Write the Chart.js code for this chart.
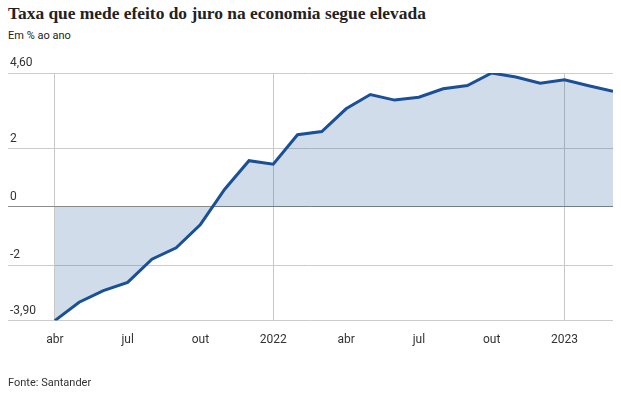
<!DOCTYPE html>
<html>
<head>
<meta charset="utf-8">
<script src="https://cdn.jsdelivr.net/npm/chart.js@4"></script>
<style>
  body{margin:0;background:#fff;}
  #wrap{position:relative;width:621px;height:398px;overflow:hidden;}
  #title{position:absolute;left:8px;top:3px;font:bold 17.4px "Liberation Serif",serif;color:#222;white-space:nowrap;}
  #sub{position:absolute;left:8px;top:29px;font:11px "Liberation Sans Narrow","Roboto",sans-serif;color:#222;}
  #src{position:absolute;left:8px;top:376px;font:11px "Liberation Sans Narrow","Roboto",sans-serif;color:#333;}
  canvas{position:absolute;left:0;top:0;}
</style>
</head>
<body>
<div id="wrap">
  <div id="title">Taxa que mede efeito do juro na economia segue elevada</div>
  <div id="sub">Em % ao ano</div>
  <canvas id="chart" width="621" height="398"></canvas>
  <div id="src">Fonte: Santander</div>
</div>
<script>
// abr/2021 .. mar/2023, monthly
const months = ["abr/21","mai/21","jun/21","jul/21","ago/21","set/21","out/21","nov/21","dez/21",
  "jan/22","fev/22","mar/22","abr/22","mai/22","jun/22","jul/22","ago/22","set/22","out/22","nov/22","dez/22",
  "jan/23","fev/23","mar/23"];
const values = [-3.90,-3.27,-2.87,-2.59,-1.79,-1.40,-0.60,0.61,1.59,
  1.47,2.48,2.59,3.37,3.86,3.67,3.77,4.06,4.17,4.60,4.46,4.25,
  4.37,4.16,3.97];
const xTickPos = [0,3,6,9,12,15,18,21];
const xTickLabels = ["abr","jul","out","2022","abr","jul","out","2023"];
const xGridPos = [0,9,21];
const yTickVals = [-3.9,-2,0,2,4.6];
const yTickLabels = ["-3,90","-2","0","2","4,60"];

const tickFont = {family:"'Liberation Sans Narrow', Roboto, sans-serif", size:12};

const ctx = document.getElementById("chart").getContext("2d");
new Chart(ctx,{
  type:'line',
  data:{
    datasets:[{
      data: values.map((v,i)=>({x:i,y:v})),
      borderColor:'#1a5096',
      borderWidth:3,
      backgroundColor:'rgba(22,80,150,0.2)',
      fill:'origin',
      pointRadius:0,
      tension:0
    }]
  },
  options:{
    responsive:false,
    animation:false,
    layout:{padding:{left:4,right:8,top:73,bottom:39}},
    plugins:{legend:{display:false},tooltip:{enabled:false}},
    scales:{
      x:{
        type:'linear',
        min:-1.93,
        max:23,
        afterBuildTicks: s => { s.ticks = xTickPos.map(v=>({value:v})); },
        ticks:{
          color:'#333',
          font:tickFont,
          padding:12,
          maxRotation:0,
          autoSkip:false,
          callback:(v)=> xTickLabels[xTickPos.indexOf(v)]
        },
        grid:{
          drawTicks:false,
          color: c => xGridPos.includes(c.tick.value) ? '#c8c8c8' : 'rgba(0,0,0,0)'
        },
        border:{display:false}
      },
      y:{
        min:-3.9,
        max:4.6,
        afterBuildTicks: s => { s.ticks = yTickVals.map(v=>({value:v})); },
        ticks:{
          mirror:true,
          padding:2,
          labelOffset:-10,
          color:'#333',
          font:tickFont,
          callback:(v)=> yTickLabels[yTickVals.indexOf(v)]
        },
        grid:{
          drawTicks:false,
          color: c => c.tick.value === 0 ? '#8a8a8a' : '#cccccc'
        },
        border:{display:false}
      }
    }
  }
});
</script>
</body>
</html>
